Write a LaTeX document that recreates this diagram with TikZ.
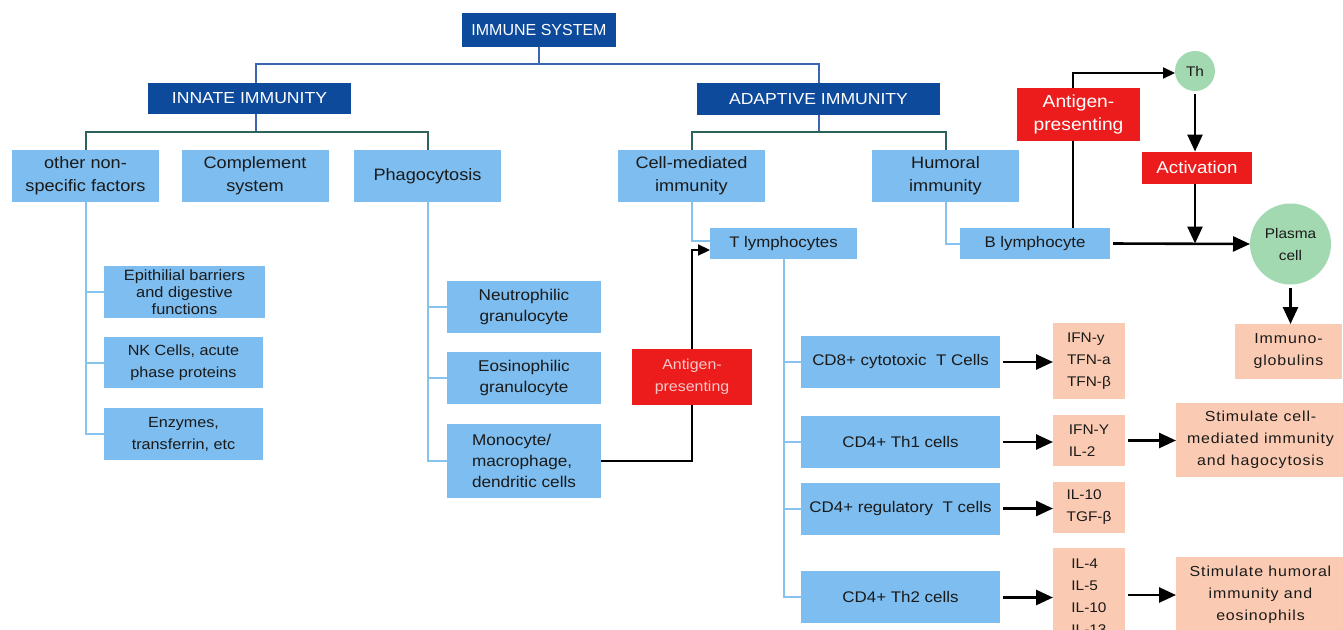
\documentclass[tikz,border=0pt]{standalone}
\usepackage{fontspec}
\setmainfont[FakeStretch=1.1]{Liberation Sans}
\newfontfamily\plainfont{Liberation Sans}
\newfontfamily\spacedfont[FakeStretch=1.1,LetterSpace=6]{Liberation Sans}
\usetikzlibrary{arrows.meta,calc}
\pgfdeclarelayer{background}
\pgfsetlayers{background,main}
\definecolor{dblue}{HTML}{0D4A9B}
\definecolor{lblue}{HTML}{7DBDEF}
\definecolor{lline}{HTML}{86C2EE}
\definecolor{topline}{HTML}{3A66B0}
\definecolor{tealline}{HTML}{2C625C}
\definecolor{redbox}{HTML}{EC1C1C}
\definecolor{peach}{HTML}{FACBB2}
\definecolor{greenc}{HTML}{A3D9B1}
\definecolor{txt}{HTML}{1A1A1A}
\definecolor{pinktxt}{HTML}{F8C8C8}
\newcommand\myfs[2]{\fontsize{#1}{#2}\selectfont}
\begin{document}
\begin{tikzpicture}[x=1pt,y=-1pt,
  box/.style={inner sep=0pt, outer sep=0pt, align=center},
  lb/.style={box, fill=lblue, text=txt},
  db/.style={box, fill=dblue, text=white, font=\myfs{16}{20}},
  rb/.style={box, fill=redbox, text=white},
  pb/.style={box, fill=peach, text=txt},
  gc/.style={circle, inner sep=0pt, outer sep=0pt, fill=greenc, text=txt, align=center},
  tl/.style={draw=topline, line width=2pt},
  tc/.style={draw=tealline, line width=2pt},
  ll/.style={draw=lline, line width=2pt},
  bk/.style={draw=black, line width=2.2pt},
  bka/.style={draw=black, line width=2.6pt, -{Triangle[length=17pt,width=15pt]}},
  bks/.style={draw=black, line width=2.2pt, -{Triangle[length=12pt,width=11pt]}},
  lev2/.style={lb, minimum width=147, minimum height=52, font=\myfs{16.5}{23}},
  leaf/.style={lb, font=\myfs{14.7}{22}},
  gran/.style={lb, minimum width=154, font=\myfs{15.6}{21}},
  cd/.style={lb, minimum width=199, minimum height=52, font=\myfs{15.4}{20}},
  cy/.style={pb, minimum width=72, font=\myfs{14}{22}},
  sp/.style={pb, font=\spacedfont\myfs{14.5}{22}},
]
\begin{pgfonlayer}{background}
\fill[white] (0,0) rectangle (1343,629);
\end{pgfonlayer}
\path[use as bounding box] (0,0) rectangle (1343,629);
\clip (0,0) rectangle (1343,629);

% junction coordinates
\coordinate (h1) at (0,64);
\coordinate (h2) at (0,132);
\coordinate (jI) at (256,0);
\coordinate (apx) at (1073,0);

% top level
\node[db, font=\plainfont\myfs{16}{20}, minimum width=154, minimum height=34] (sys) at (539,30) {IMMUNE SYSTEM};
\node[db, minimum width=203, minimum height=31] (innate) at (249.5,98.5) {INNATE IMMUNITY};
\node[db, minimum width=243, minimum height=32] (adapt) at (818.5,99) {ADAPTIVE IMMUNITY};

% level 2
\node[lev2] (other) at (85.5,176) {other non-\\specific factors};
\node[lev2] (comp) at (255,176) {Complement\\system};
\node[lev2] (phago) at (427.5,176) {Phagocytosis};
\node[lev2] (cell) at (691.5,176) {Cell-mediated\\immunity};
\node[lev2] (hum) at (945.5,176) {Humoral\\immunity};

% innate leaves
\node[lb, minimum width=161, minimum height=52, font=\myfs{14.9}{17}] (epi) at (184.5,292) {Epithilial barriers\\and digestive\\functions};
\node[leaf, minimum width=159, minimum height=51] (nk) at (183.5,362.5) {NK Cells, acute\\phase proteins};
\node[leaf, minimum width=159, minimum height=52] (enz) at (183.5,434) {Enzymes,\\transferrin, etc};
\node[gran, minimum height=52] (neu) at (524,307) {Neutrophilic\\granulocyte};
\node[gran, minimum height=52] (eos) at (524,378) {Eosinophilic\\granulocyte};
\node[gran, minimum height=74, align=left] (mono) at (524,461) {Monocyte/\\macrophage,\\dendritic cells};

% red antigen presenting (lower)
\node[rb, text=pinktxt, minimum width=120, minimum height=56, font=\myfs{14.5}{22}] (ap2) at (692,377) {Antigen-\\presenting};

% lymphocytes
\node[lb, minimum width=147, minimum height=31, font=\myfs{15.3}{20}] (tly) at (783.5,243.5) {T lymphocytes};
\node[lb, minimum width=150, minimum height=31, font=\myfs{15.3}{20}] (bly) at (1035,243.5) {B lymphocyte};

% T cell subsets
\node[cd] (cd8) at (900.5,362) {CD8+ cytotoxic\ \ T Cells};
\node[cd] (th1) at (900.5,442) {CD4+ Th1 cells};
\node[cd] (reg) at (900.5,508.5) {CD4+ regulatory\ \ T cells};
\node[cd] (th2) at (900.5,596.5) {CD4+ Th2 cells};

% cytokines
\node[cy, minimum height=76, align=left] (cy1) at (1089,361) {IFN-y\\TFN-a\\TFN-β};
\node[cy, minimum height=51, align=left] (cy2) at (1089,440.5) {IFN-Y\\IL-2};
\node[cy, minimum height=51, align=left] (cy3) at (1089,507.5) {IL-10\\TGF-β};
\node[cy, minimum height=97, align=left] (cy4) at (1089,596.5) {IL-4\\IL-5\\IL-10\\IL-13};

\node[sp, minimum width=169, minimum height=74] (st1) at (1260.5,440) {Stimulate cell-\\mediated immunity\\and hagocytosis};
\node[sp, minimum width=169, minimum height=76] (st2) at (1260.5,595) {Stimulate humoral\\immunity and\\eosinophils};

% humoral right part
\node[rb, minimum width=123, minimum height=53, font=\myfs{17.5}{23}] (ap1) at (1078.5,114.5) {Antigen-\\presenting};
\node[gc, minimum size=40, font=\myfs{14}{18}] (th) at (1195,71) {Th};
\node[rb, minimum width=110, minimum height=32, font=\myfs{17}{20}] (act) at (1197,167.5) {Activation};
\node[gc, minimum size=81, font=\myfs{14}{22}] (plasma) at (1290.5,244) {Plasma\\cell};
\node[sp, minimum width=107, minimum height=55] (imm) at (1288.5,351.5) {Immuno-\\globulins};

\begin{pgfonlayer}{background}
% top lines
\draw[tl] (sys.south) -- (sys.south |- h1);
\draw[tl] (innate.north -| jI) |- (adapt.north |- h1) -- (adapt.north);
\draw[tl] (innate.south -| jI) -- (jI |- h2);
\draw[tl] (adapt.south) -- (adapt.south |- h2);
\draw[tc] (other.north) |- (phago.north |- h2) -- (phago.north);
\draw[tc] (cell.north) |- (hum.north |- h2) -- (hum.north);

% light blue tree lines
\draw[ll] (other.south) |- (epi.west);
\draw[ll] (other.south) |- (nk.west);
\draw[ll] (other.south) |- (enz.west);
\draw[ll] (phago.south) |- (neu.west);
\draw[ll] (phago.south) |- (eos.west);
\draw[ll] (phago.south) |- (mono.west);
\draw[ll] (cell.south) |- ([yshift=2.5pt]tly.west);
\draw[ll] (tly.south) |- (cd8.west);
\draw[ll] (tly.south) |- (th1.west);
\draw[ll] (tly.south) |- (reg.west);
\draw[ll] (tly.south) |- (th2.west);
\draw[ll] (hum.south) |- (bly.west);

% black connectors
\draw[bk] (mono.east) -| (ap2.south);
\draw[bks] (ap2.north) |- ([yshift=-6.5pt]tly.west);
\draw[bks] (bly.north -| apx) |- ([yshift=-2pt]th.west);
\end{pgfonlayer}

\draw[bka, shorten <=3pt] (cd8.east) -- (cd8.east -| cy1.west);
\draw[bka, shorten <=3pt] (th1.east) -- (th1.east -| cy2.west);
\draw[bka, shorten <=3pt] (reg.east) -- (reg.east -| cy3.west);
\draw[bka, shorten <=3pt] ([yshift=-1pt]th2.east) -- ([yshift=-1pt]th2.east -| cy4.west);
\draw[bka, shorten <=3pt] (cy2.east) -- (cy2.east -| st1.west);
\draw[bka, shorten <=3pt] (cy4.east |- st2.west) -- (st2.west);
\draw[bka, shorten <=3pt] (th.south) -- (th.south |- act.north);
\draw[bka] (act.south -| th) -- (th |- bly.east);
\draw[bka, shorten <=3pt] (bly.east) -- (plasma.west);
\draw[bka, shorten <=3pt] (plasma.south) -- (plasma.south |- imm.north);
\end{tikzpicture}
\end{document}
